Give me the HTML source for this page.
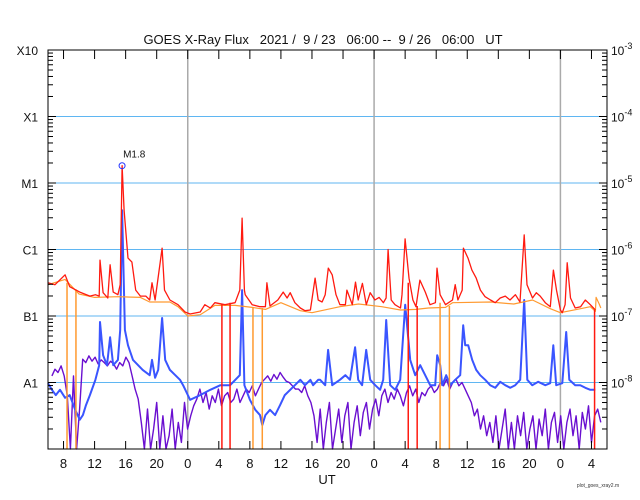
<!DOCTYPE html>
<html><head><meta charset="utf-8"><style>
html,body{margin:0;padding:0;background:#fff;}
svg{display:block;font-family:"Liberation Sans",sans-serif;}
</style></head><body>
<svg id="chart" width="640" height="500" viewBox="0 0 640 500" xmlns="http://www.w3.org/2000/svg">
<text x="323" y="44" text-anchor="middle" font-size="13" fill="#111" xml:space="preserve">GOES X-Ray Flux   2021 /  9 / 23   06:00 --  9 / 26   06:00   UT</text>
<g id="grid"></g>
<g id="series"></g>
<g id="axes"></g>
<text x="327" y="484" text-anchor="middle" font-size="13" fill="#111">UT</text>
<text x="598" y="487" text-anchor="middle" font-size="5" fill="#333">plot_goes_xray2.m</text>
</svg>
<script>
// ---- data (hours since 2021-09-23 06:00 UT, log10 flux W/m^2) ----
const redT=[0,0.9,2.2,2.8,4.1,5.4,6.1,6.6,6.7,7.1,7.7,8.0,8.4,9.0,9.3,9.54,9.8,10.3,10.8,11.3,11.9,12.6,13.1,13.4,13.8,14.7,15.0,15.7,16.75,17.65,18.3,19.6,20.2,20.9,21.5,22.8,24.1,24.7,25.0,25.3,25.4,26.3,27.3,28.0,28.2,28.6,29.6,30.3,30.8,31.2,31.8,32.5,33.1,33.8,34.4,34.8,35.3,35.7,36.1,36.6,37.1,37.6,38.3,38.5,39.2,39.6,39.95,40.5,41.0,41.5,42.1,42.65,43.2,43.55,43.8,44.2,44.7,45.4,45.6,46.0,46.5,47.0,47.4,47.9,48.6,49.2,49.9,50.1,50.5,51.2,52.1,52.45,52.8,53.35,53.5,54.1,54.6,55.15,55.7,56.3,57.0,57.6,58.25,58.9,59.5,60.2,60.8,61.34,61.7,62.4,62.9,63.4,64.05,64.7,65.1,65.5,66.0,66.24,66.6,66.88,67.3,67.9,68.6,69.2,69.85,70.5];
const redV=[-6.5,-6.53,-6.38,-6.56,-6.64,-6.7,-6.68,-6.7,-6.16,-6.65,-6.73,-6.23,-6.64,-6.68,-6.53,-4.74,-5.41,-6.13,-6.19,-6.61,-6.7,-6.7,-6.76,-6.5,-6.76,-5.98,-6.61,-6.76,-6.83,-6.94,-6.97,-6.94,-6.83,-6.88,-6.8,-6.83,-6.8,-6.61,-5.53,-6.61,-6.68,-6.83,-6.86,-6.86,-6.5,-6.85,-6.76,-6.64,-6.73,-6.65,-6.8,-6.88,-6.92,-6.91,-6.43,-6.76,-6.79,-6.68,-6.28,-6.38,-6.68,-6.83,-6.83,-6.61,-6.83,-6.49,-6.76,-6.51,-6.83,-6.65,-6.76,-6.72,-6.8,-6.73,-6.0,-6.76,-6.83,-6.88,-6.68,-5.84,-6.43,-6.76,-6.86,-6.46,-6.64,-6.83,-6.8,-6.28,-6.68,-6.83,-6.76,-6.53,-6.76,-6.61,-5.98,-6.13,-6.31,-6.43,-6.61,-6.71,-6.76,-6.8,-6.73,-6.7,-6.76,-6.68,-6.79,-5.78,-6.53,-6.73,-6.65,-6.7,-6.8,-6.86,-6.31,-6.61,-6.91,-6.95,-6.83,-6.2,-6.73,-6.88,-6.86,-6.76,-6.83,-6.91];
const orangeT=[0,2.2,4,6,9,11.9,13.1,15.7,16.75,18,19.6,21.5,24.1,26.3,28,30,32.5,34,37.6,40,43,45.4,47.4,49,51.2,52.1,57,60,62.4,64.7,66,68.6,69.85,70.5,70.6,71,71.2];
const orangeV=[-6.53,-6.45,-6.67,-6.72,-6.71,-6.72,-6.79,-6.79,-6.86,-7.0,-6.98,-6.84,-6.84,-6.87,-6.9,-6.8,-6.92,-6.95,-6.86,-6.82,-6.86,-6.91,-6.9,-6.88,-6.87,-6.8,-6.79,-6.82,-6.76,-6.89,-6.95,-6.89,-6.86,-6.93,-6.72,-6.82,-6.88];
const blueT=[0,0.5,1.0,1.55,2.2,2.8,3.5,4.1,4.5,4.9,5.4,6.1,6.6,6.7,7.1,7.6,8.0,8.4,9.0,9.3,9.54,9.9,10.3,10.95,11.6,12.2,13.1,13.4,13.8,14.2,14.7,15.1,15.7,16.4,17.0,17.4,18.3,19.6,20.9,22.2,23.45,24.7,25.0,25.3,26.0,26.7,27.3,27.6,28.0,28.6,29.25,29.9,30.5,31.2,31.8,32.5,33.1,33.8,34.15,34.8,35.05,35.7,36.08,36.6,37.6,38.3,38.9,39.56,39.95,40.46,40.98,41.5,42.14,42.78,43.17,43.56,44.07,44.72,45.36,46.01,46.65,47.29,47.94,48.58,49.23,49.87,50.13,50.52,50.77,51.29,51.8,52.45,53.09,53.48,53.74,54.12,54.64,55.15,55.67,56.31,56.96,57.6,58.25,58.89,59.54,60.18,60.82,61.34,61.73,62.37,63.14,64.05,64.69,65.08,65.46,66.24,66.75,67.14,67.91,68.56,69.2,69.85,70.49];
const blueV=[-8.01,-8.11,-8.19,-8.11,-8.23,-8.19,-8.41,-8.56,-8.49,-8.34,-8.19,-7.96,-7.74,-7.09,-7.59,-7.74,-7.32,-7.74,-7.66,-7.21,-5.41,-7.21,-7.44,-7.66,-7.74,-7.81,-7.89,-7.66,-7.93,-7.81,-7.03,-7.66,-7.81,-7.89,-7.96,-8.04,-8.26,-8.19,-8.11,-8.04,-8.04,-7.89,-6.61,-8.04,-8.26,-8.41,-8.49,-8.64,-8.49,-8.41,-8.49,-8.34,-8.19,-8.11,-8.04,-7.96,-8.04,-7.96,-8.04,-7.96,-7.96,-8.04,-7.51,-8.04,-7.96,-7.89,-7.96,-7.47,-7.96,-8.04,-7.51,-7.96,-8.04,-8.11,-7.96,-7.06,-8.04,-8.11,-7.96,-6.83,-7.66,-7.89,-7.74,-7.89,-8.04,-8.04,-7.59,-7.74,-8.04,-7.89,-8.04,-7.96,-7.89,-7.14,-7.44,-7.44,-7.66,-7.81,-7.89,-7.96,-8.04,-8.08,-7.99,-8.04,-8.08,-8.04,-7.96,-6.76,-7.96,-8.04,-7.99,-8.04,-8.01,-7.44,-8.04,-8.01,-7.24,-7.96,-8.04,-8.04,-8.08,-8.11,-8.11];
const purpleStart=0.5, purpleEnd=71.2;
const purpleV=[-7.9,-7.8,-7.85,-7.75,-7.9,
-8.2,-9.1,-7.9,-9.1,-8.4,
-7.65,-7.7,-7.6,-7.68,-7.62,-7.72,-7.66,-7.7,-7.75,-7.68,-7.72,
-7.8,-7.7,-7.75,-7.62,-7.7,-7.9,-8.1,-8.25,
-8.6,-9.1,-8.4,-9.1,-8.7,-8.3,-9.1,-8.5,-9.1,-8.8,-8.4,-9.1,-8.6,-8.9,-8.3,-8.7,-8.5,-8.35,
-8.25,-8.1,-8.3,-8.15,-8.4,-8.2,-8.3,-8.1,-8.35,-8.2,-8.15,-8.3,-8.25,-8.1,-8.3,-8.2,
-8.1,-8.15,-8.05,-8.2,-8.1,-8.0,
-7.95,-7.9,-7.98,-7.88,-7.95,-7.85,-7.92,-7.98,-8.0,-8.05,-8.1,
-8.1,-8.15,-8.05,-8.2,-8.3,-8.5,
-8.9,-8.4,-9.1,-8.6,-8.3,-9.1,-8.7,-8.4,-8.9,-8.5,-8.3,-9.0,-8.6,-8.35,-8.8,-8.45,-8.3,-8.7,-8.4,-8.25,-8.5,
-8.2,-8.1,-8.3,-8.15,-8.25,-8.1,-8.2,-8.35,-8.15,-8.05,-8.2,-8.1,-8.3,-8.15,-8.2,-8.1,-8.05,-8.15,-8.1,
-8.0,-8.05,-7.95,-8.1,-8.0,-7.95,-8.05,-8.0,-8.1,
-8.2,-8.3,-8.5,-8.4,-8.7,-8.5,-8.8,-8.6,
-8.9,-8.5,-9.1,-8.7,-8.4,-9.0,-8.6,-9.1,-8.5,-8.8,-8.45,-9.1,-8.7,-8.5,-9.0,-8.55,-8.8,-8.4,-9.1,-8.6,-8.45,-8.9,-8.5,-9.1,-8.6,-8.4,-8.8,-8.5,-9.0,-8.45,-8.7,-8.35,-8.9,-8.5,-8.4,-8.6];
const redDropT=[22.4,23.45,46.4,47.55,70.4];
const redDropTop=[-6.82,-6.8,-6.5,-6.85,-6.91];
const orangeDropT=[2.45,3.6,26.4,27.6,50.5,51.7];
const orangeDropTop=[-6.5,-6.6,-6.88,-6.88,-6.8,-6.85];
const flareT=[9.54], flareV=[-4.74], flareLabel=["M1.8"];
const classLabels=["X10","X1","M1","C1","B1","A1"];
const classExp=[-3,-4,-5,-6,-7,-8];
const xTickHours=[2,6,10,14,18,22,26,30,34,38,42,46,50,54,58,62,66,70];
const xTickLabels=["8","12","16","20","0","4","8","12","16","20","0","4","8","12","16","20","0","4"];
const dayLineHours=[18,42,66];

// ---- scales ----
const L=48,R=607,T=50,B=449,HMAX=72,LMAX=-3,LMIN=-9;
const xs=h=>L+(R-L)*h/HMAX;
const ys=v=>T+(B-T)*(LMAX-Math.max(v,LMIN))/(LMAX-LMIN);
const NS='http://www.w3.org/2000/svg';
function mk(tag,attrs,parent){const e=document.createElementNS(NS,tag);for(const k in attrs)e.setAttribute(k,attrs[k]);parent.appendChild(e);return e;}
const grid=document.getElementById('grid'),ser=document.getElementById('series'),ax=document.getElementById('axes');

classExp.forEach((e,i)=>{ if(i===0)return;
  const l=mk('line',{x1:L,x2:R,y1:ys(e),y2:ys(e),stroke:'#5fb6f2','stroke-width':1},grid);
  
  
});
dayLineHours.forEach(h=>{
  const l=mk('line',{x1:xs(h),x2:xs(h),y1:T,y2:B,stroke:'#aaaaaa','stroke-width':1.5},grid);
  
  
});

function path(T_,V_,color,w,name){
  let d='';for(let i=0;i<T_.length;i++)d+=(i?'L':'M')+xs(T_[i]).toFixed(1)+','+ys(V_[i]).toFixed(1);
  const p=mk('path',{d:d,fill:'none',stroke:color,'stroke-width':w,'stroke-linejoin':'round'},ser);
  
  
}
const pT=purpleV.map((_,i)=>purpleStart+(purpleEnd-purpleStart)*i/(purpleV.length-1));
path(pT,purpleV,'#6a0fd0',1.4,'short-channel-secondary-series');
path(blueT,blueV,'#3a55ff',2,'short-channel-primary-series');
orangeDropT.forEach((h,i)=>{
  const l=mk('line',{x1:xs(h),x2:xs(h),y1:ys(orangeDropTop[i]),y2:B,stroke:'#ff9a30','stroke-width':1.5},ser);
  
  
});
path(orangeT,orangeV,'#ff9a30',1.2,'long-channel-secondary-series');
path(redT,redV,'#ff1a10',1.3,'long-channel-primary-series');
redDropT.forEach((h,i)=>{
  const l=mk('line',{x1:xs(h),x2:xs(h),y1:ys(redDropTop[i]),y2:B,stroke:'#ff1a10','stroke-width':1.5},ser);
  
  
});
flareT.forEach((h,i)=>{
  const c=mk('circle',{cx:xs(h),cy:ys(flareV[i]),r:3,fill:'none',stroke:'#2233ff','stroke-width':1},ser);
  
  
  const t=mk('text',{x:xs(h)+1,y:ys(flareV[i])-8,'text-anchor':'start','font-size':10,fill:'#111'},ser);
  t.textContent=flareLabel[i];
  
  
});

const fr=mk('rect',{x:L,y:T,width:R-L,height:B-T,fill:'none',stroke:'#000','stroke-width':1},ax);


classExp.forEach((e,i)=>{
  const y=ys(e);
  const t=mk('text',{x:38,y:y+5,'text-anchor':'end','font-size':12,fill:'#111'},ax);
  t.textContent=classLabels[i];
  
  
  const r=mk('text',{x:611,y:y+5,'font-size':12,fill:'#111'},ax);
  r.innerHTML='10<tspan dy="-6" font-size="9">'+e+'</tspan>';
  
  
  for(let m=1;m<=9;m++){
    const v=e-1+Math.log10(m); if(v<LMIN||v>LMAX)continue;
    const yy=ys(v), len=(m===1)?8:5;
    mk('line',{x1:L,x2:L+len,y1:yy,y2:yy,stroke:'#000','stroke-width':1},ax);
    mk('line',{x1:R-len,x2:R,y1:yy,y2:yy,stroke:'#000','stroke-width':1},ax);
  }
});
xTickHours.forEach((h,i)=>{
  const x=xs(h);
  mk('line',{x1:x,x2:x,y1:B,y2:B-8,stroke:'#000','stroke-width':1},ax);
  mk('line',{x1:x,x2:x,y1:T,y2:T+9,stroke:'#000','stroke-width':1},ax);
  const t=mk('text',{x:x,y:468,'text-anchor':'middle','font-size':13,fill:'#111'},ax);
  t.textContent=xTickLabels[i];
  
  
});
</script>
</body></html>
